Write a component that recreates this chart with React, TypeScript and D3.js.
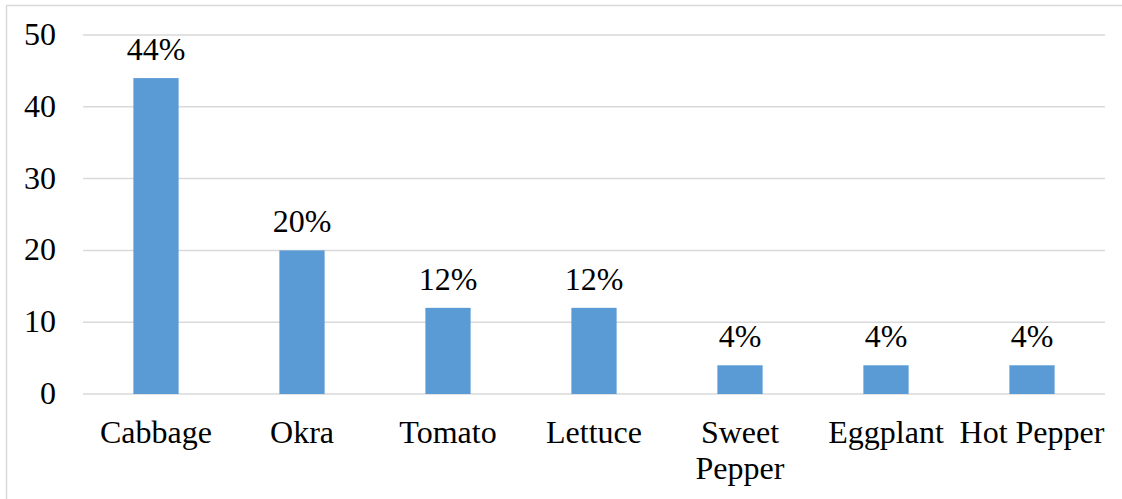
import React from "react";
import * as d3 from "d3";

const categories: string[][] = [
  ["Cabbage"],
  ["Okra"],
  ["Tomato"],
  ["Lettuce"],
  ["Sweet", "Pepper"],
  ["Eggplant"],
  ["Hot Pepper"],
];
const values: number[] = [44, 20, 12, 12, 4, 4, 4];
const valueLabels: string[] = ["44%", "20%", "12%", "12%", "4%", "4%", "4%"];
const yTicks: number[] = [0, 10, 20, 30, 40, 50];

const W = 1122;
const H = 499;
const left = 83;
const right = 1105;
const top = 35;
const bottom = 394;
const font = "'Liberation Serif', 'Times New Roman', serif";
const fs = 32;

export default function App() {
  const x = d3
    .scaleBand<number>()
    .domain(d3.range(categories.length))
    .range([left, right])
    .paddingInner(0.69)
    .paddingOuter(0.345);
  const band = d3.scaleBand<number>().domain(d3.range(categories.length)).range([left, right]);
  const y = d3.scaleLinear().domain([0, 50]).range([bottom, top]);
  const textStyle = { fontFamily: font, fontSize: fs } as React.CSSProperties;
  const cx = (i: number) => (band(i) as number) + band.bandwidth() / 2;

  return (
    <svg
      width={W}
      height={H}
      style={{ position: "absolute", left: 0, top: 0, background: "#fff", fontFamily: font }}
    >
      <rect x={0} y={0} width={W} height={H} fill="#fff" />
      <line x1={6.5} x2={6.5} y1={5} y2={H} stroke="#d9d9d9" strokeWidth={1.5} />
      <line x1={6} x2={W} y1={5.5} y2={5.5} stroke="#d9d9d9" strokeWidth={1.5} />
      {yTicks.map((t) => (
        <g key={t}>
          <line x1={left} x2={right} y1={y(t)} y2={y(t)} stroke="#d9d9d9" strokeWidth={1.5} />
          <text x={56} y={y(t) + 10} textAnchor="end" style={textStyle} fill="#000">
            {t}
          </text>
        </g>
      ))}
      {values.map((v, i) => (
        <g key={i}>
          <rect
            x={x(i)}
            y={y(v)}
            width={x.bandwidth()}
            height={y(0) - y(v)}
            fill="#5B9BD5"
          />
          <text x={cx(i)} y={y(v) - 18} textAnchor="middle" style={textStyle} fill="#000">
            {valueLabels[i]}
          </text>
          {categories[i].map((line, j) => (
            <text
              key={j}
              x={cx(i)}
              y={443 + j * 36}
              textAnchor="middle"
              style={textStyle}
              fill="#000"
            >
              {line}
            </text>
          ))}
        </g>
      ))}
    </svg>
  );
}
